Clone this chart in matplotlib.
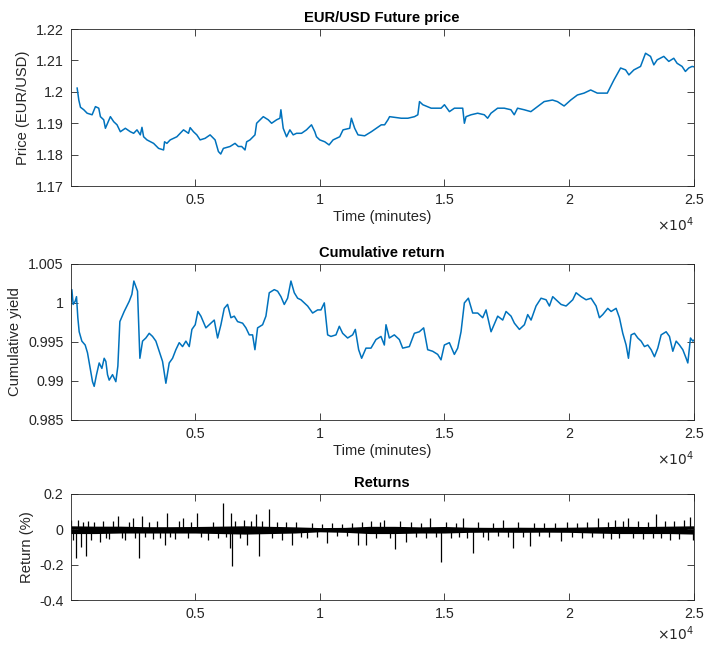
import matplotlib
matplotlib.use('Agg')
import matplotlib.pyplot as plt
import numpy as np

plt.rcParams['font.family'] = ['Liberation Sans', 'DejaVu Sans']

# ---- data ----
price_t = [267, 333, 400, 533, 667, 867, 1000, 1133, 1200, 1333,
           1400, 1600, 1733, 1867, 2000, 2200, 2400, 2533, 2667, 2800,
           2867, 2933, 3067, 3333, 3533, 3733, 3773, 3867, 4000, 4267,
           4533, 4733, 4800, 4933, 5067, 5200, 5400, 5600, 5800, 5933,
           6027, 6133, 6400, 6600, 6733, 6867, 7000, 7067, 7200, 7400,
           7467, 7733, 7933, 8067, 8267, 8400, 8440, 8533, 8667, 8800,
           8933, 9067, 9267, 9467, 9667, 9800, 9867, 10000, 10200, 10373,
           10533, 10800, 10933, 11200, 11267, 11400, 11533, 11800, 12067, 12267,
           12467, 12600, 12733, 12800, 13000, 13267, 13533, 13800, 13933, 14000,
           14133, 14467, 14867, 15000, 15200, 15400, 15733, 15800, 15867, 16067,
           16333, 16600, 16733, 16867, 17133, 17400, 17667, 17800, 17933, 18200,
           18467, 18733, 19000, 19333, 19533, 19800, 20067, 20333, 20600, 20867,
           21133, 21533, 21667, 21800, 22067, 22267, 22400, 22600, 22867, 23067,
           23267, 23400, 23533, 23800, 24000, 24200, 24333, 24533, 24667, 24800,
           24933, 25000]
price = [1.2012, 1.1974, 1.1951, 1.1943, 1.1932, 1.1927, 1.1953, 1.1948, 1.1921, 1.1911,
         1.1884, 1.1921, 1.1905, 1.1895, 1.1873, 1.1884, 1.1873, 1.1868, 1.1879, 1.1863,
         1.1887, 1.1857, 1.1847, 1.1836, 1.1820, 1.1815, 1.1841, 1.1836, 1.1847, 1.1857,
         1.1879, 1.1868, 1.1886, 1.1873, 1.1863, 1.1847, 1.1852, 1.1863, 1.1847, 1.1810,
         1.1802, 1.1820, 1.1826, 1.1836, 1.1826, 1.1826, 1.1815, 1.1841, 1.1847, 1.1863,
         1.1900, 1.1921, 1.1911, 1.1900, 1.1911, 1.1916, 1.1943, 1.1884, 1.1857, 1.1879,
         1.1863, 1.1868, 1.1868, 1.1879, 1.1895, 1.1873, 1.1857, 1.1847, 1.1841, 1.1831,
         1.1847, 1.1857, 1.1879, 1.1884, 1.1916, 1.1884, 1.1863, 1.1860, 1.1873, 1.1884,
         1.1895, 1.1895, 1.1911, 1.1921, 1.1919, 1.1916, 1.1916, 1.1921, 1.1927, 1.1969,
         1.1959, 1.1948, 1.1948, 1.1959, 1.1937, 1.1948, 1.1948, 1.1900, 1.1921, 1.1927,
         1.1932, 1.1927, 1.1916, 1.1932, 1.1948, 1.1948, 1.1943, 1.1927, 1.1948, 1.1943,
         1.1937, 1.1953, 1.1969, 1.1974, 1.1969, 1.1955, 1.1974, 1.1990, 1.1996, 1.2006,
         1.1996, 1.1996, 1.2017, 1.2038, 1.2076, 1.2070, 1.2054, 1.2070, 1.2081, 1.2123,
         1.2113, 1.2086, 1.2102, 1.2113, 1.2097, 1.2107, 1.2091, 1.2081, 1.2065, 1.2076,
         1.2081, 1.2080]

cum_t = [13, 54, 107, 187, 241, 294, 348, 455, 589, 682,
         776, 883, 950, 1043, 1151, 1258, 1351, 1418, 1485, 1552,
         1686, 1819, 1900, 1980, 2154, 2355, 2462, 2542, 2622, 2689,
         2783, 2890, 3023, 3157, 3291, 3425, 3559, 3692, 3826, 3960,
         4094, 4227, 4361, 4495, 4629, 4763, 4870, 5003, 5110, 5231,
         5431, 5565, 5766, 5900, 6034, 6167, 6301, 6435, 6569, 6703,
         6903, 7037, 7171, 7304, 7398, 7505, 7706, 7839, 7973, 8174,
         8308, 8442, 8575, 8709, 8843, 8977, 9111, 9244, 9378, 9512,
         9713, 9913, 10047, 10181, 10315, 10448, 10649, 10783, 10917, 11117,
         11318, 11425, 11559,
         11679, 11853, 12054, 12254, 12455, 12589, 12656, 12789, 12990, 13191,
         13325, 13592, 13793, 13993, 14167, 14328, 14528, 14729, 14863, 14997,
         15197, 15398, 15532, 15666, 15800, 15960, 16134, 16335, 16535, 16669,
         16870, 17137, 17338, 17472, 17672, 17806, 18007, 18207, 18341, 18475,
         18675, 18876, 19077, 19211, 19344, 19545, 19679, 19880, 20147, 20281,
         20482, 20682, 20883, 21084, 21217, 21351, 21552, 21686, 21886, 22020,
         22154, 22288, 22382, 22489, 22622, 22756, 22890, 23024, 23157, 23291,
         23425, 23559, 23693, 23893, 24027, 24161, 24295, 24428, 24562, 24696,
         24763, 24870, 24963, 25000]
cum_yield = [1.0002, 1.0017, 0.9998, 1.0002, 1.0008, 0.9981, 0.9963, 0.9951, 0.9946, 0.9936,
             0.9919, 0.9899, 0.9893, 0.9908, 0.9923, 0.9916, 0.9929, 0.9925, 0.9908, 0.9901,
             0.9908, 0.9899, 0.9919, 0.9976, 0.9989, 1.0002, 1.0011, 1.0028, 1.0021, 1.0015,
             0.9929, 0.9951, 0.9955, 0.9961, 0.9957, 0.9951, 0.9938, 0.9925, 0.9897, 0.9923,
             0.9929, 0.9940, 0.9949, 0.9944, 0.9951, 0.9944, 0.9966, 0.9972, 0.9989, 0.9983,
             0.9968, 0.9972, 0.9978, 0.9955, 0.9972, 0.9993, 0.9998, 0.9981, 0.9983, 0.9976,
             0.9974, 0.9968, 0.9959, 0.9959, 0.9940, 0.9968, 0.9972, 0.9983, 1.0013, 1.0017,
             1.0015, 1.0008, 0.9998, 1.0006, 1.0028, 1.0013, 1.0006, 1.0004, 1.0000, 0.9996,
             0.9987, 0.9991, 0.9991, 1.0000, 0.9959, 0.9957, 0.9959, 0.9970, 0.9961, 0.9955,
             0.9959, 0.9966, 0.9940,
             0.9929, 0.9942, 0.9942, 0.9953, 0.9957, 0.9946, 0.9972, 0.9955, 0.9959, 0.9953,
             0.9942, 0.9944, 0.9961, 0.9963, 0.9968, 0.9940, 0.9938, 0.9934, 0.9927, 0.9946,
             0.9949, 0.9934, 0.9942, 0.9963, 1.0000, 1.0006, 0.9987, 0.9987, 0.9981, 0.9991,
             0.9963, 0.9983, 0.9978, 0.9989, 0.9983, 0.9974, 0.9966, 0.9972, 0.9985, 0.9978,
             0.9996, 1.0006, 1.0004, 0.9996, 1.0008, 1.0002, 0.9998, 0.9996, 1.0004, 1.0013,
             1.0008, 1.0004, 1.0006, 0.9996, 0.9981, 0.9985, 0.9993, 0.9989, 0.9993, 0.9981,
             0.9961, 0.9946, 0.9929, 0.9959, 0.9961, 0.9955, 0.9951, 0.9944, 0.9946, 0.9940,
             0.9931, 0.9942, 0.9959, 0.9963, 0.9957, 0.9938, 0.9951, 0.9946, 0.9940, 0.9929,
             0.9923, 0.9955, 0.9951, 0.9952]

# returns: dense core of the noise band (every 1000 min) and the spikes sticking out of it
band_t = [0, 1000, 2000, 3000, 4000, 5000, 6000, 7000, 8000, 9000,
          10000, 11000, 12000, 13000, 14000, 15000, 16000, 17000, 18000, 19000,
          20000, 21000, 22000, 23000, 24000, 25000]
band_hi = [0.020, 0.018, 0.018, 0.015, 0.015, 0.016, 0.018, 0.020, 0.017, 0.014,
           0.010, 0.011, 0.017, 0.017, 0.014, 0.016, 0.012, 0.011, 0.012, 0.011,
           0.012, 0.014, 0.017, 0.016, 0.018, 0.020]
band_lo = [-0.024, -0.024, -0.021, -0.021, -0.021, -0.021, -0.024, -0.027, -0.024, -0.021,
           -0.014, -0.017, -0.024, -0.024, -0.021, -0.021, -0.017, -0.016, -0.017, -0.016,
           -0.017, -0.021, -0.024, -0.024, -0.024, -0.027]
spike_t = [40, 120, 229, 296, 403, 500, 605, 700, 806, 950,
           1170, 1300, 1420, 1560, 1700, 1908, 2050, 2200, 2350, 2513,
           2600, 2742, 2876, 3000, 3150, 3300, 3450, 3600, 3790, 3857,
           4000, 4200, 4350, 4530, 4700, 4850, 5094, 5250, 5500, 5700,
           5900, 6102, 6250, 6400, 6438, 6478, 6600, 6800, 6950, 7083,
           7250, 7459, 7553, 7700, 7957, 8100, 8300, 8494, 8650, 8897,
           9050, 9250, 9500, 9700, 9900, 10100, 10308, 10500, 10700, 10900,
           11100, 11300, 11518, 11700, 11853, 12050, 12250, 12400, 12590, 12800,
           13018, 13200, 13460, 13650, 13850, 14050, 14250, 14438, 14650, 14866,
           15050, 15250, 15450, 15600, 15736, 15900, 16165, 16350, 16550, 16741,
           16950, 17150, 17343, 17550, 17745, 17950, 18150, 18414, 18600, 18800,
           19000, 19200, 19450, 19687, 19900, 20100, 20300, 20500, 20700, 20900,
           21159, 21350, 21550, 21700, 21829, 22000, 22150, 22348, 22550, 22750,
           22950, 23150, 23350, 23500, 23700, 23850, 24038, 24200, 24400, 24600,
           24842, 24975]
spike_r = [0.050, -0.060, -0.160, 0.050, -0.098, 0.040, -0.149, 0.045, -0.060, 0.040,
           -0.070, 0.045, -0.050, -0.055, 0.045, 0.077, -0.050, -0.058, 0.040, 0.066,
           -0.050, -0.164, 0.075, -0.045, 0.040, -0.055, 0.045, -0.050, -0.088, 0.090,
           -0.045, -0.055, 0.045, 0.062, -0.050, 0.040, 0.094, -0.045, -0.058, 0.040,
           -0.050, 0.150, -0.045, -0.107, 0.094, -0.210, 0.045, -0.050, 0.050, -0.088,
           0.045, 0.085, -0.149, 0.045, 0.113, -0.050, 0.040, -0.060, 0.040, -0.088,
           0.040, -0.045, -0.050, 0.035, -0.045, 0.030, -0.079, 0.035, -0.040, 0.030,
           -0.040, 0.035, -0.088, 0.040, -0.088, 0.045, -0.050, 0.040, 0.053, -0.050,
           -0.113, 0.045, -0.070, 0.040, -0.045, 0.035, -0.050, 0.062, -0.045, -0.183,
           0.040, -0.050, 0.035, -0.045, 0.066, -0.050, -0.135, 0.040, -0.045, -0.060,
           0.035, -0.040, 0.053, -0.045, -0.103, 0.040, -0.045, -0.092, 0.035, -0.040,
           0.035, -0.045, 0.035, -0.066, 0.040, -0.045, 0.035, -0.050, 0.040, -0.045,
           0.062, -0.050, 0.040, -0.055, 0.053, -0.050, 0.045, 0.066, -0.050, 0.045,
           -0.055, 0.040, -0.050, 0.087, -0.050, 0.045, -0.060, 0.045, -0.055, 0.050,
           0.072, -0.060]

xticks = [5000, 10000, 15000, 20000, 25000]
xticklabels = ['0.5', '1', '1.5', '2', '2.5']

blue = '#0072BD'
dark = '#262626'

fig = plt.figure(figsize=(7.05, 6.46), dpi=100)
ax1 = fig.add_axes([0.100, 0.712, 0.884, 0.243])
ax2 = fig.add_axes([0.100, 0.350, 0.884, 0.2415])
ax3 = fig.add_axes([0.100, 0.0712, 0.884, 0.1641])


def style(ax, title, ylabel, xlabel=None, exp_off=-39):
    ax.set_xlim(0, 25000)
    ax.set_xticks(xticks)
    ax.set_xticklabels(xticklabels)
    ax.tick_params(direction='in', length=5, width=0.6, top=True, right=True,
                   labelsize=10.3, colors=dark, pad=5)
    for s in ax.spines.values():
        s.set_color(dark)
        s.set_linewidth(0.6)
    ax.set_title(title, fontsize=10.6, fontweight='bold', pad=5)
    ax.set_ylabel(ylabel, fontsize=10.6, color=dark, labelpad=4)
    if xlabel:
        ax.set_xlabel(xlabel, fontsize=10.6, color=dark, labelpad=2)
    # axis multiplier, MATLAB style
    ax.annotate(r'$\times10^{4}$', xy=(1, 0), xycoords='axes fraction',
                xytext=(0, exp_off), textcoords='offset pixels',
                ha='right', va='center', fontsize=10, color=dark)


ax1.plot(price_t, price, color=blue, lw=1.1)
ax1.set_ylim(1.17, 1.22)
ax1.set_yticks([1.17, 1.18, 1.19, 1.2, 1.21, 1.22])
ax1.set_yticklabels(['1.17', '1.18', '1.19', '1.2', '1.21', '1.22'])
style(ax1, 'EUR/USD Future price', 'Price (EUR/USD)', 'Time (minutes)')

ax2.plot(cum_t, cum_yield, color=blue, lw=1.1)
ax2.set_ylim(0.985, 1.005)
ax2.set_yticks([0.985, 0.99, 0.995, 1.0, 1.005])
ax2.set_yticklabels(['0.985', '0.99', '0.995', '1', '1.005'])
style(ax2, 'Cumulative return', 'Cumulative yield', 'Time (minutes)')

ax3.fill_between(band_t, band_lo, band_hi, color='black', lw=0)
ax3.vlines(spike_t, 0, spike_r, color='black', lw=0.9)
ax3.set_ylim(-0.4, 0.2)
ax3.set_yticks([-0.4, -0.2, 0, 0.2])
ax3.set_yticklabels(['-0.4', '-0.2', '0', '0.2'])
style(ax3, 'Returns', 'Return (%)', exp_off=-34)

fig.savefig('out.png', dpi=100)
